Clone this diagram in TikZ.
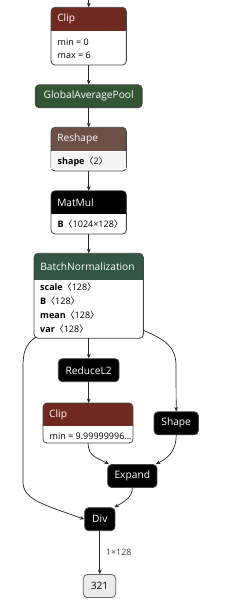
\documentclass[tikz,border=0pt]{standalone}
\usepackage{fontspec}
\setmainfont{Open Sans}
\newfontfamily\cjk{Noto Sans CJK SC}
\usetikzlibrary{arrows.meta}
\definecolor{actred}{RGB}{112,41,33}
\definecolor{shapebrown}{RGB}{108,79,71}
\definecolor{normgreen}{RGB}{51,85,68}
\definecolor{poolgreen}{RGB}{51,85,51}
\definecolor{edgegray}{RGB}{70,70,70}
\newcommand\ab[1]{{\cjk 〈}#1{\cjk 〉}}
\newcommand\headbox[8]{%
  \begin{scope}
    \clip[rounded corners=4pt] (#2-#4/2,#3) rectangle ++(#4,#5+#6);
    \fill[#7] (#2-#4/2,#3) rectangle ++(#4,#5);
    \fill[white] (#2-#4/2,#3+#5) rectangle ++(#4,#6);
  \end{scope}
  \node[outline, minimum width=#4, minimum height=#5+#6] (#1) at (#2,#3+#5/2+#6/2) {};
  \node[titletxt, anchor=west] at (#2-#4/2+6,#3+#5/2) {#8};
}
\tikzset{
  outline/.style={rectangle, rounded corners=4pt, draw=edgegray, line width=0.8pt, inner sep=0pt, outer sep=0pt},
  titletxt/.style={text=white, font=\fontsize{10.2}{12}\selectfont, inner sep=0pt},
  bodytxt/.style={text=black, font=\fontsize{9}{10}\selectfont, inner sep=0pt, anchor=west},
  opbox/.style={rectangle, rounded corners=4pt, fill=black, draw=edgegray, line width=0.8pt, text=white, font=\fontsize{10.2}{12}\selectfont, inner sep=0pt, minimum height=23pt},
  iobox/.style={rectangle, rounded corners=4pt, fill=gray!15, draw=gray!80!black, line width=0.8pt, text=black, font=\fontsize{10.2}{12}\selectfont, inner sep=0pt, minimum height=23pt},
  arr/.style={draw=black!85, line width=0.7pt, -{Stealth[length=4.5pt,width=3.8pt]}},
  lbl/.style={text=black!75, font=\fontsize{8.8}{10}\selectfont, inner sep=0pt},
}
\begin{document}
\begin{tikzpicture}[x=1pt,y=-1pt]
\useasboundingbox (0,0) rectangle (231,613);
\fill[white] (0,0) rectangle (231,613);
\coordinate (in) at (88.7,0);
% Clip 1
\headbox{clipa}{88.7}{7.3}{75.3}{23.7}{34}{actred}{Clip}
\node[bodytxt] at (57.5,42.3) {min = 0};
\node[bodytxt] at (57.5,55.7) {max = 6};
% GlobalAveragePool
\node[opbox, fill=poolgreen, minimum width=107pt] (gap) at (88.7,96.3) {GlobalAveragePool};
% Reshape
\headbox{reshape}{88.7}{127.3}{75.3}{23.7}{20}{shapebrown}{Reshape}
\fill[gray!8] ([xshift=0.4pt,yshift=-0.4pt]reshape.west |- 0,151.4) rectangle ([xshift=-0.4pt,yshift=2pt]reshape.south east);
\node[bodytxt] at (57.5,162) {\textbf{shape}\ab{2}};
% MatMul
\headbox{matmul}{88.7}{190.7}{75.3}{23.6}{19.7}{black}{MatMul}
\node[bodytxt] at (57.5,224.3) {\textbf{B}\ab{1024×128}};
% BatchNormalization
\headbox{bn}{88.7}{253.3}{109.3}{27}{58}{normgreen}{BatchNormalization}
\node[bodytxt] at (40,287.3) {\textbf{scale}\ab{128}};
\node[bodytxt] at (40,301.2) {\textbf{B}\ab{128}};
\node[bodytxt] at (40,315) {\textbf{mean}\ab{128}};
\node[bodytxt] at (40,329) {\textbf{var}\ab{128}};
% ReduceL2
\node[opbox, minimum width=60.7pt] (reduce) at (88.7,370.2) {ReduceL2};
% Clip 2
\headbox{clipb}{88}{403}{90}{23}{17}{actred}{Clip}
\node[bodytxt] at (49.5,436) {min = 9.99999996...};
% Shape
\node[opbox, minimum width=44.3pt] (shape) at (176.2,423.3) {Shape};
% Expand
\node[opbox, minimum width=49.3pt] (expand) at (132.3,476) {Expand};
% Div
\node[opbox, minimum width=30.3pt] (div) at (99.8,519.2) {Div};
% output
\node[iobox, minimum width=32.4pt] (out) at (99.5,586) {321};
% edges
\draw[arr] (in) -- (clipa);
\draw[arr] (clipa) -- (gap);
\draw[arr] (gap) -- (reshape);
\draw[arr] (reshape) -- (matmul);
\draw[arr] (matmul) -- (bn);
\draw[arr] (bn) -- (reduce);
\draw[arr] (reduce.south) -- (reduce.south |- clipb.north);
\draw[arr] ([xshift=2pt,yshift=1.5pt]bn.south west) .. controls (25,345) and (23,352) .. (23,368) -- (23,482) .. controls (23,500) and (45,505) .. (div.west);
\draw[arr] ([yshift=8pt]bn.south east) .. controls (166,340) and (176,347) .. (176,366) -- (shape.north);
\draw[arr] (clipb.south) .. controls (88.3,457) and (98,458) .. ([xshift=1.5pt]expand.north west);
\draw[arr] (shape.south) .. controls (176,453) and (166,459) .. ([xshift=-1.5pt]expand.north east);
\draw[arr] (expand.south) .. controls (132.5,497) and (124,502) .. ([xshift=-1pt]div.north east);
\draw[arr] (div.south) -- (div.south |- out.north) node[lbl, midway, anchor=west, xshift=6pt] {1×128};
\end{tikzpicture}
\end{document}
